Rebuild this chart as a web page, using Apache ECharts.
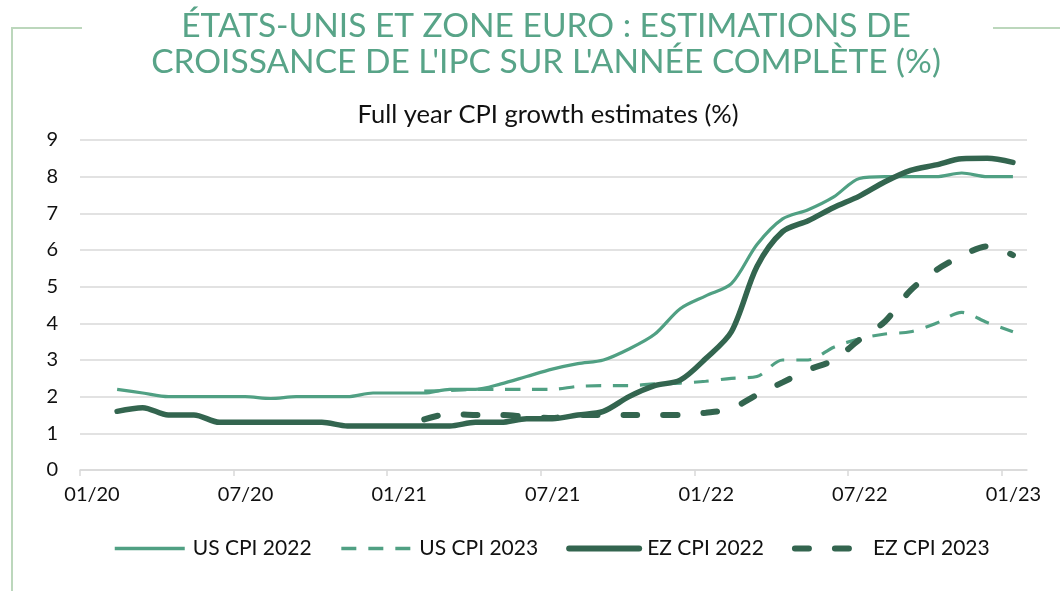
<!DOCTYPE html>
<html>
<head>
<meta charset="utf-8">
<script src="https://cdn.jsdelivr.net/npm/echarts@6/dist/echarts.min.js"></script>
<style>
  html, body { margin: 0; padding: 0; background: #fff; }
  #main { width: 1060px; height: 591px; }
</style>
</head>
<body>
<div id="main"></div>
<script>
// monthly estimates, Feb 2020 - Jan 2023
const months = ['2020-02','2020-03','2020-04','2020-05','2020-06','2020-07','2020-08','2020-09','2020-10','2020-11','2020-12',
  '2021-01','2021-02','2021-03','2021-04','2021-05','2021-06','2021-07','2021-08','2021-09','2021-10','2021-11','2021-12',
  '2022-01','2022-02','2022-03','2022-04','2022-05','2022-06','2022-07','2022-08','2022-09','2022-10','2022-11','2022-12',
  '2023-01'];
const usCpi2022 = [2.2,2.1,2.0,2.0,2.0,2.0,1.95,2.0,2.0,2.0,2.1,
  2.1,2.1,2.2,2.2,2.35,2.55,2.75,2.9,3.0,3.3,3.7,4.4,
  4.75,5.08,6.15,6.85,7.1,7.45,7.95,8.0,8.0,8.0,8.1,8.0,
  8.0];
const usCpi2023 = [null,null,null,null,null,null,null,null,null,null,null,
  null,2.15,2.17,2.2,2.2,2.2,2.2,2.28,2.3,2.3,2.35,2.37,
  2.42,2.5,2.55,3.0,3.0,3.35,3.58,3.71,3.77,4.0,4.3,4.02,
  3.77];
const ezCpi2022 = [1.6,1.7,1.5,1.5,1.3,1.3,1.3,1.3,1.3,1.2,1.2,
  1.2,1.2,1.2,1.3,1.3,1.4,1.4,1.5,1.6,2.0,2.3,2.45,
  3.04,3.77,5.55,6.5,6.8,7.16,7.47,7.86,8.17,8.32,8.49,8.5,
  8.39];
const ezCpi2023 = [null,null,null,null,null,null,null,null,null,null,null,
  null,1.38,1.53,1.5,1.5,1.45,1.42,1.5,1.5,1.5,1.5,1.5,
  1.56,1.68,2.05,2.39,2.73,3.0,3.55,4.05,4.9,5.45,5.84,6.1,
  5.86];
const xTicks = [0, 6, 12, 18, 24, 30, 36];   // months since 01/20

const lightGreen = '#50a083';
const darkGreen = '#33654f';

// month index from Jan 2020, points sit mid-month
function monthPos(m) {
  const p = m.split('-');
  return (parseInt(p[0]) - 2020) * 12 + parseInt(p[1]) - 1 + 0.45;
}
function pairs(values) {
  return months.map((m, i) => [monthPos(m), values[i]]);
}
function tickLabel(v) {
  const y = 20 + Math.floor(v / 12);
  const mo = (v % 12) + 1;
  return (mo < 10 ? '0' + mo : '' + mo) + '/' + y;
}

const chart = echarts.init(document.getElementById('main'));
const option = {
  animation: false,
  title: [
    {
      text: "ÉTATS-UNIS ET ZONE EURO : ESTIMATIONS DE\nCROISSANCE DE L'IPC SUR L'ANNÉE COMPLÈTE (%)",
      left: 541,
      top: 3,
      textAlign: 'center',
      textStyle: { fontFamily: 'Lato', fontWeight: 'normal', fontSize: 33.5, lineHeight: 36, color: '#58a488' }
    },
    {
      text: 'Full year CPI growth estimates (%)',
      left: 543,
      top: 97,
      textAlign: 'center',
      textStyle: { fontFamily: 'Lato', fontWeight: 'normal', fontSize: 25.5, color: '#111' }
    }
  ],
  graphic: [
    { type: 'line', shape: { x1: 12, y1: 28, x2: 82, y2: 28 }, style: { stroke: '#bcd7bc', lineWidth: 2 } },
    { type: 'line', shape: { x1: 12, y1: 27, x2: 12, y2: 591 }, style: { stroke: '#bcd7bc', lineWidth: 2 } },
    { type: 'line', shape: { x1: 993, y1: 28, x2: 1060, y2: 28 }, style: { stroke: '#bcd7bc', lineWidth: 2 } }
  ],
  grid: { left: 80, right: 33, top: 140, bottom: 121 },
  legend: {
    bottom: 27,
    left: 108,
    itemWidth: 70,
    itemHeight: 14,
    itemGap: 28,
    itemStyle: { opacity: 0 },
    textStyle: { fontFamily: 'Lato', fontSize: 21, color: '#111', padding: [0, 0, 0, 3] },
    data: [
      { name: 'US CPI 2022', lineStyle: { width: 3.5 } },
      { name: 'US CPI 2023', lineStyle: { width: 3.5 } },
      { name: 'EZ CPI 2022', lineStyle: { width: 6 } },
      { name: 'EZ CPI 2023', lineStyle: { width: 6 } }
    ]
  },
  xAxis: {
    type: 'value',
    min: 0,
    max: 37,
    interval: 6,
    splitLine: { show: false },
    axisLine: { lineStyle: { color: '#d9d9d9', width: 1.5 } },
    axisTick: { length: 6, customValues: xTicks, lineStyle: { color: '#d9d9d9', width: 1.5 } },
    axisLabel: {
      customValues: xTicks,
      formatter: tickLabel,
      margin: 15,
      padding: [0, 0, 0, 24],
      fontFamily: 'Lato',
      fontSize: 20,
      color: '#111'
    }
  },
  yAxis: {
    type: 'value',
    min: 0,
    max: 9,
    interval: 1,
    axisLine: { show: false },
    axisTick: { show: false },
    splitLine: { lineStyle: { color: '#d9d9d9', width: 1.5 } },
    axisLabel: { margin: 22, fontFamily: 'Lato', fontSize: 20, color: '#111' }
  },
  series: [
    {
      name: 'US CPI 2022', type: 'line', data: pairs(usCpi2022), smooth: 0.3, symbol: 'none',
      color: lightGreen, lineStyle: { width: 3.2, color: lightGreen }
    },
    {
      name: 'US CPI 2023', type: 'line', data: pairs(usCpi2023), smooth: 0.3, symbol: 'none',
      color: lightGreen, lineStyle: { width: 3.2, color: lightGreen, type: [15, 12] }
    },
    {
      name: 'EZ CPI 2022', type: 'line', data: pairs(ezCpi2022), smooth: 0.3, symbol: 'none',
      color: darkGreen, lineStyle: { width: 5.5, color: darkGreen, cap: 'round' }
    },
    {
      name: 'EZ CPI 2023', type: 'line', data: pairs(ezCpi2023), smooth: 0.3, symbol: 'none',
      color: darkGreen, lineStyle: { width: 6, color: darkGreen, type: [14, 26], cap: 'round' }
    }
  ]
};
chart.setOption(option);
</script>
</body>
</html>
